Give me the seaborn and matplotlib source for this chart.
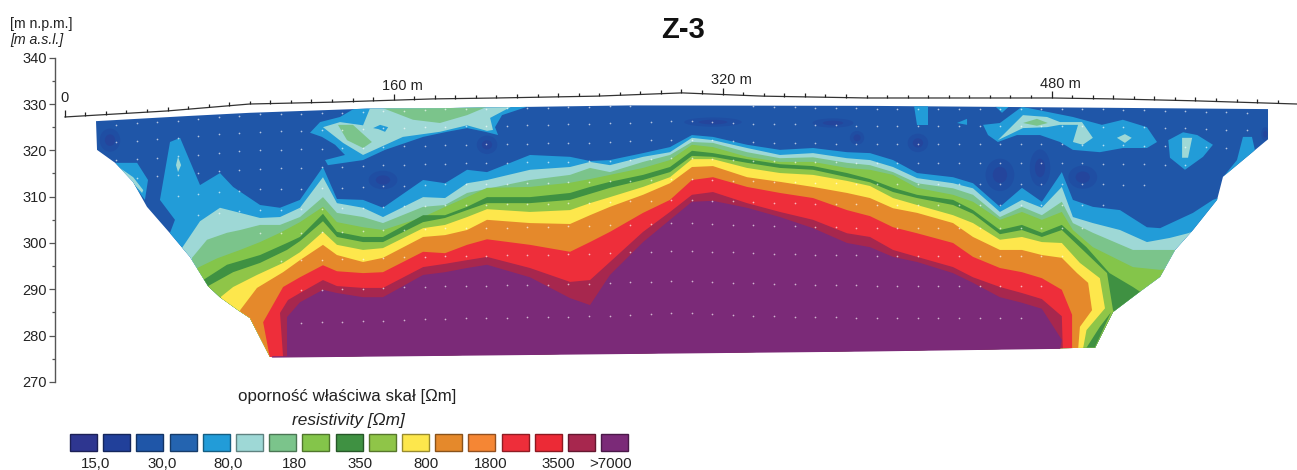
import numpy as np
import pandas as pd
import matplotlib
matplotlib.use("Agg")
import matplotlib.pyplot as plt
import seaborn as sns
from matplotlib.patches import Polygon, Ellipse, Rectangle
from matplotlib.path import Path

# legend classes
CLASS_COLORS = ["#2e3690", "#21409a", "#1f56a8", "#2464b0", "#229cd8", "#9ed8d6",
                "#7bc48b", "#84c54a", "#3f9142", "#8fc548", "#fde74c", "#e5892b",
                "#f58634", "#ee2e3a", "#ec2a36", "#a7274e", "#7b2a78"]
LEGEND_TICKS = ["15,0", "30,0", "80,0", "180", "350", "800", "1800", "3500", ">7000"]

# section outline (distance m, elevation m)
OUTLINE_X = [15.2, 59.5, 90, 147, 182.5, 275, 391.6, 585.3, 585.3, 563.4, 560.5, 548.8, 540.1, 532.8,
             522.1, 509.9, 501.2, 386.8, 99.8, 90.1, 84.3, 75.5, 69.7, 60.9, 51.2, 40, 33.2, 24.5, 15.7]
OUTLINE_Y = [326.3, 327.4, 328.1, 329, 329.1, 329.7, 329.6, 328.9, 322.4, 314.3, 309.3, 302.8, 298.5, 292.7,
             289.2, 285.1, 277.4, 276.7, 275.4, 283.8, 285.5, 288.3, 290.7, 297, 302.1, 307.8, 313.2, 317.3, 320.1]
BOTTOM_X = [101, 386.8, 484]
BOTTOM_Y = [275.4, 276.7, 277.3]

# ground surface line
SURFACE_X = [0, 49.8, 90, 130.5, 179, 210.2, 258.9, 300.2, 339.6, 390.2, 480.2, 510, 548.8, 599.4]
SURFACE_Y = [327.2, 328.5, 330, 330.4, 331.1, 331.3, 331.7, 332.4, 331.7, 331.3, 331.3, 331.1, 330.7, 330]

# isolines: common middle stations, each class has own ends
MID_X = [114.4, 125.6, 132.4, 145.1, 154.8, 174.3, 185, 195.7, 205.4, 226.3, 245.8, 255.5, 265.2, 281.3, 294.4,
         305.1, 315.3, 331.9, 347.9, 364, 380.5, 391.7, 402.9, 414.6, 432.1, 441.8, 454.9, 465.6, 475.3, 485]

C4_LX = [51.2, 53.6, 46.3, 51.2, 56.1, 65.8, 75.5, 81.9, 95, 104.7]
C4_LY = [302.2, 305, 309.3, 321.8, 322.7, 312.5, 315.1, 312.1, 308.2, 307.6]
C4_MID = [309.3, 316.4, 309.5, 309.3, 307.6, 313.6, 312.9, 315.8, 315.3, 319, 318.6, 317.7, 317.9, 319.4, 320.7,
          323.3, 322.9, 321.2, 320.1, 320.5, 319.6, 319.4, 317.9, 315.1, 314.2, 312.9, 307.8, 311.9, 308.9, 315.3]
C4_RX = [490.4, 500.1, 513.3, 526.4, 532.8, 548.8, 558.5, 571.6]
C4_RY = [309.3, 307.8, 307.1, 303.4, 303.2, 306.5, 309.3, 311.4]

C5_LX = [57, 65.8, 75.5, 85.3, 95, 104.7]
C5_LY = [298.9, 304.7, 307.6, 306.5, 305.4, 305.6]
C5_MID = [307.6, 314.2, 308.6, 307.6, 305.6, 309.9, 309.7, 312.9, 313.6, 315.8, 316.4, 317.5, 316.8, 318.6, 319.6,
          322.7, 322.2, 320.5, 319, 319.4, 318.3, 317.9, 316.4, 314, 312.9, 311.8, 306.7, 309.3, 307.6, 312.1]
C5_RX = [490.4, 500.1, 513.3, 526.4, 537.6, 546.4, 557.1]
C5_RY = [305.6, 304.3, 302.8, 300.2, 301.1, 302.1, 303.9]

C6_LX = [61.9, 69.2, 78.9, 85.3, 95, 104.7]
C6_LY = [296.8, 300.7, 302.2, 302.8, 303.9, 303.9]
C6_MID = [305.6, 309.9, 306.5, 305.6, 304.3, 307.8, 308.2, 310.8, 311.7, 313.6, 314.7, 316.2, 315.3, 317.5, 319,
          321.8, 321.6, 319.6, 318.3, 318.5, 317.3, 316.8, 315.3, 312.9, 311.8, 310.4, 305.6, 307.8, 306, 308.9]
C6_RX = [490.4, 500.1, 519.6, 540, 547.3]
C6_RY = [304.3, 302.2, 298.5, 298.5, 299.6]

C7_LX = [64.4, 74.2, 85.3, 95, 104.7]
C7_LY = [294.6, 296.7, 298.5, 300.2, 302.2]
C7_MID = [304.5, 307.8, 304.5, 303.4, 302.8, 305.6, 307.8, 309.9, 311.9, 312.1, 313, 313.8, 314.7, 316.2, 317.9,
          321.2, 320.7, 318.6, 317.5, 317.5, 316.2, 315.8, 314.7, 311.9, 310.4, 308.9, 305, 306.7, 305, 306.7]
C7_RX = [490.4, 500.1, 519.6, 532.8, 540]
C7_RY = [302.8, 299.1, 294.8, 294.2, 294.6]

C8_LX = [67.3, 78.9, 95, 108.1]
C8_LY = [292, 295.3, 297.4, 300]
C8_MID = [301.3, 306.3, 302.4, 301.3, 301.3, 306, 306, 307.8, 309.9, 309.9, 310.8, 312.1, 313.2, 314.7, 316.4,
          319.9, 319.4, 318.1, 317, 316.6, 315.1, 313.8, 311.9, 310.4, 309.3, 307.1, 302.8, 303.9, 302.2, 303.9]
C8_RX = [497, 508.2, 519.6, 525.4]
C8_RY = [299.1, 293.5, 290.5, 288.8]

C9_LX = [69.7, 81.9, 95, 108.1]
C9_LY = [290.7, 293.7, 295.7, 298.5]
C9_MID = [300.4, 304.7, 301.3, 300.2, 300.2, 304.5, 305.4, 307.1, 308.6, 308.6, 309.3, 310.6, 311.9, 313.6, 315.3,
          318.8, 318.6, 317.3, 316.2, 315.8, 314.2, 313.1, 311, 309.7, 308.2, 306.3, 301.9, 302.8, 301.3, 302.8]
C9_RX = [495.2, 507, 509.9, 513.3]
C9_RY = [298.5, 293.5, 285.5, 283.4]

C10_LX = [76, 81.9, 93.5, 106.2]
C10_LY = [288.4, 290.5, 293.1, 295.7]
C10_MID = [298, 302.4, 299.6, 298.5, 298.9, 303.2, 303.9, 305.6, 307.3, 306.7, 307.1, 308.6, 309.9, 312.1, 314.2,
           318.1, 318.1, 316.2, 315.1, 314.7, 313.4, 312.3, 309.7, 308.2, 306, 304.3, 300.7, 301.3, 300.2, 300]
C10_RX = [493.8, 503.5, 506, 497, 495.2]
C10_RY = [295.7, 292.4, 285.9, 281.2, 276.9]

C11_LX = [85.3, 93.5, 106.2]
C11_LY = [285.5, 290.3, 293.7]
C11_MID = [296.3, 299.6, 297.4, 295.9, 296.8, 301.3, 301.7, 302.8, 305, 304.3, 304.1, 306, 307.8, 310.4, 312.9,
           316.4, 316.6, 314.2, 313.2, 312.1, 310.8, 309.7, 307.5, 306.5, 304.3, 301.3, 298.5, 298.5, 297.4, 296.8]
C11_RX = [492.4, 497.8, 499.7, 493.8, 492.9]
C11_RY = [293.5, 291.4, 285.5, 281.9, 276.9]

C13_LX = [99.8, 96.5, 106.2]
C13_LY = [275.2, 282.9, 290.5]
C13_MID = [292.6, 295.2, 293.9, 293.5, 293.7, 298.1, 297.8, 299.6, 300.8, 299.6, 298.1, 300.2, 302.4, 306.5, 309.3,
           313.6, 314.2, 312.1, 310.8, 309.7, 307.1, 305.8, 303.4, 302.1, 300, 297, 294.6, 293.7, 292.4, 289.9]
C13_RX = [490, 490]
C13_RY = [284.5, 276.9]

C15_LX = [106.2, 104.7, 108.6]
C15_LY = [275.4, 284.9, 287.7]
C15_MID = [289.2, 292, 290.7, 290.3, 290.3, 294.8, 295.5, 296.3, 297, 294.6, 291.6, 292, 295.9, 302.4, 306.7,
           310.4, 311, 308.6, 306.7, 305, 302.1, 301.3, 298.5, 297, 294.8, 292.6, 290.5, 289.2, 287.9, 284.2]
C15_RX = [485.5]
C15_RY = [276.9]

C16_LX = [108.1, 108.1]
C16_LY = [275.8, 284]
C16_MID = [287.2, 289.9, 289.2, 288.3, 288.3, 293.1, 293.7, 294.6, 295.3, 292.6, 288.1, 286.6, 293.1, 300.2, 305,
           308.9, 309.1, 307.6, 305.6, 303.2, 300, 299.1, 297, 295.9, 293.5, 291.4, 288.3, 287.1, 285.8, 279.1]
C16_RX = [484]
C16_RY = [276.9]

# near surface anomalies, (class index, x, y)
PATCHES = [
    (4, [141.2, 133.9, 124.2, 119.3, 125.1, 131.5, 136.3, 126.6, 128, 145.1, 155.8, 174.3, 185.9, 195.7, 204.6, 210.8, 209.3, 212.7, 226.3, 226.3, 141.2],
        [329.1, 327.2, 326.1, 323.8, 322.9, 321.2, 319, 317.9, 316.8, 317.9, 320.1, 322.9, 324, 324.8, 324, 323.3, 325, 327.6, 329.6, 331, 331]),
    (5, [148.5, 145.1, 133.9, 125.6, 135.4, 145.1, 164.5, 182.5, 195.7, 205.4, 208.3, 206.9, 218, 218, 148.5],
        [329.1, 325.4, 326.1, 325, 321.6, 319, 322.9, 324, 325.4, 324.2, 324.4, 327, 329.6, 331, 331]),
    (6, [154.8, 169.4, 182.5, 195.7, 205.4, 205.4, 154.8], [329.1, 326.6, 325.9, 327.6, 329.4, 331, 331]),
    (6, [132.9, 140.2, 149.4, 145.1, 137.3], [325.5, 325.5, 321.8, 320.5, 322.2]),
    (4, [150, 153.4, 157.3, 155.8, 152.4], [324.8, 325.5, 325, 324, 324.6]),
    (4, [24.5, 35.2, 40.5, 39, 31.8], [317.3, 317.3, 313.6, 309.3, 313.6]),
    (5, [25.5, 33.3, 38.2, 37.6, 32.7], [316.6, 314.2, 311.4, 310.8, 313.2]),
    (5, [55.1, 56.6, 55.1, 54.1], [318.6, 316.8, 315.3, 316.8]),
    (4, [446.7, 454.9, 465.6, 490.4, 504.5, 514.7, 526.4, 531.3, 526.4, 514.7, 503.5, 490.4, 484.1, 474.4, 463.2, 453.9, 449.1],
        [325.5, 325.9, 329.4, 327.2, 325.5, 326.6, 325, 321.8, 320.5, 320.5, 319.6, 320.1, 321.8, 323.3, 323.3, 321.8, 323.3]),
    (5, [453.9, 466.1, 477.8, 484.1, 494.8, 500.1, 495.2, 490.4, 492.9, 484.1, 477.8, 466.1],
        [322.2, 327.6, 327.2, 326.1, 326.1, 322.7, 321.2, 321.8, 325.5, 325.5, 325, 324.8]),
    (6, [466.1, 472.9, 478.2, 472.9], [325.9, 326.8, 325.9, 325.3]),
    (5, [511.8, 515.7, 519, 515.7], [322.7, 323.5, 322.7, 321.6]),
    (4, [536.8, 544, 550.9, 558.5, 553.7, 544.9, 537.6], [322.2, 323.9, 323.3, 321.2, 318.6, 315.8, 318.4]),
    (5, [543.5, 548.4, 546.4, 543.5], [322.7, 322.7, 318.4, 318.4]),
    (4, [563.4, 570.2, 573.1, 577.5, 578.9, 575, 569.2], [314.2, 317.9, 322.9, 322.9, 320.1, 316.8, 314.7]),
    (4, [412.6, 419.9, 419.9, 414.6], [331, 331, 325.5, 325.5]),
    (4, [434, 438.9, 438.9], [325.9, 326.8, 325.5]),
    (4, [449.1, 463.2, 455.9], [331, 331, 328.1]),
    (8, [497, 503.5, 509, 501], [277.4, 281.9, 285.1, 277.4]),
]

# low resistivity spots
SPOT_X = [22, 454.9, 474.4, 495.2, 415, 205.4, 315.3, 373.7, 385.4, 154.8, 584]
SPOT_Y = [322.2, 314.7, 316.2, 314.2, 321.6, 321.2, 326.1, 325.9, 322.7, 313.6, 323.5]
SPOT_W = [10, 14, 10, 14, 10, 10, 28, 20, 7, 14, 4]
SPOT_H = [5, 7, 8, 5, 4, 4, 2, 2, 3, 4, 3]

# measurement points: depth below surface and extent of each row
ROW_DEPTH = [2.3, 6, 10, 14, 18.5, 23, 28, 34, 40.5, 47.5]
ROW_START = [20, 15, 25, 35, 50, 60, 95, 105, 110, 115]
ROW_END = [580, 580, 570, 550, 530, 510, 500, 490, 480, 470]

W, H = 1297, 470

sns.set_theme(style="white")
plt.rcParams["font.family"] = ["Liberation Sans", "DejaVu Sans"]
palette = sns.color_palette(CLASS_COLORS)

fig = plt.figure(figsize=(W / 100, H / 100), dpi=100)
ax = fig.add_axes([0, 0, 1, 1])
ax.set_xlim(-31.5, 599.4)
ax.set_ylim(251.0, 352.45)

section = Polygon(np.column_stack([OUTLINE_X, OUTLINE_Y]), closed=True, transform=ax.transData,
                  facecolor=palette[2], edgecolor="none", zorder=1)
ax.add_patch(section)


def fill_clipped(xs, ys, color, zorder):
    poly = ax.fill(xs, ys, color=color, linewidth=0, zorder=zorder)[0]
    poly.set_clip_path(section)


# darker spots sit under everything else
for x, y, w, h in zip(SPOT_X, SPOT_Y, SPOT_W, SPOT_H):
    outer = Ellipse((x, y), w, h, facecolor=palette[1], edgecolor="none", alpha=0.35, zorder=2)
    ax.add_patch(outer)
    outer.set_clip_path(section)
    inner = Ellipse((x, y), w * 0.5, h * 0.5, facecolor=palette[0], edgecolor="none", alpha=0.35, zorder=2)
    ax.add_patch(inner)
    inner.set_clip_path(section)

layers = [
    (4, C4_LX, C4_LY, C4_MID, C4_RX, C4_RY),
    (5, C5_LX, C5_LY, C5_MID, C5_RX, C5_RY),
    (6, C6_LX, C6_LY, C6_MID, C6_RX, C6_RY),
    (7, C7_LX, C7_LY, C7_MID, C7_RX, C7_RY),
    (8, C8_LX, C8_LY, C8_MID, C8_RX, C8_RY),
    (9, C9_LX, C9_LY, C9_MID, C9_RX, C9_RY),
    (10, C10_LX, C10_LY, C10_MID, C10_RX, C10_RY),
    (11, C11_LX, C11_LY, C11_MID, C11_RX, C11_RY),
    (13, C13_LX, C13_LY, C13_MID, C13_RX, C13_RY),
    (15, C15_LX, C15_LY, C15_MID, C15_RX, C15_RY),
    (16, C16_LX, C16_LY, C16_MID, C16_RX, C16_RY),
]
for i, (idx, lx, ly, mid, rx, ry) in enumerate(layers):
    xs = list(lx) + MID_X + list(rx)
    ys = list(ly) + mid + list(ry)
    # close the polygon below the section
    xs = xs + [xs[-1], xs[0]]
    ys = ys + [260, 260]
    fill_clipped(xs, ys, palette[idx], 3 + i)

# anomalies go over the blue part
for idx, xs, ys in PATCHES:
    fill_clipped(xs, ys, palette[idx], 20)

# clean the clipped bottom edge
ax.plot(BOTTOM_X, BOTTOM_Y, color=palette[16], linewidth=1.0, zorder=21)

# surface line and distance ticks
surface = pd.DataFrame({"x": SURFACE_X, "y": SURFACE_Y})
sns.lineplot(data=surface, x="x", y="y", ax=ax, color="#333333", linewidth=0.9, zorder=30)
tick_x = np.arange(0, 600, 10)
tick_y = np.interp(tick_x, SURFACE_X, SURFACE_Y)
tick_len = np.where(tick_x % 160 == 0, 1.4, 0.75)
ax.vlines(tick_x, tick_y, tick_y + tick_len, color="#222222", linewidth=0.9, zorder=30)
ax.text(0, 329.7, "0", ha="center", va="bottom", fontsize=10.5, color="#222222")
for m, lab in [(160, "160 m"), (320, "320 m"), (480, "480 m")]:
    ax.text(m + 4.3, np.interp(m, SURFACE_X, SURFACE_Y) + 1.6, lab, ha="center", va="bottom",
            fontsize=10.5, color="#222222")

# measurement points
rows = []
for depth, start, end in zip(ROW_DEPTH, ROW_START, ROW_END):
    xs = np.arange(start + 5 - start % 10, end, 10.0)
    rows.append(pd.DataFrame({"x": xs, "y": np.interp(xs, SURFACE_X, SURFACE_Y) - depth}))
dots = pd.concat(rows)
inside = Path(np.column_stack([OUTLINE_X, OUTLINE_Y])).contains_points(dots[["x", "y"]].to_numpy())
sns.scatterplot(data=dots[inside], x="x", y="y", ax=ax, color="white", s=1.5, linewidth=0, alpha=0.65, zorder=25)

# elevation axis
ax.set_xlabel("")
ax.set_ylabel("")
ax.set_xticks([])
ax.set_yticks(np.arange(270, 341, 10))
ax.set_yticks(np.arange(275, 340, 10), minor=True)
ax.tick_params(axis="y", which="major", left=True, length=4.6, width=0.9, color="#555555",
               labelsize=10.5, labelcolor="#222222", pad=1.5)
ax.tick_params(axis="y", which="minor", left=True, length=2.4, width=0.9, color="#555555")
for s in ["top", "right", "bottom"]:
    ax.spines[s].set_visible(False)
ax.spines["left"].set_position(("data", -4.7))
ax.spines["left"].set_bounds(270, 340)
ax.spines["left"].set_color("#555555")
ax.spines["left"].set_linewidth(1.0)


def fig_text(px, py, s, **kw):
    fig.text(px / W, 1 - py / H, s, **kw)


fig_text(683, 30, "Z-3", ha="center", va="center", fontsize=21, fontweight="bold", color="#111111")
fig_text(10, 24, "[m n.p.m.]", ha="left", va="center", fontsize=10.2, color="#222222")
fig_text(10, 40, "[m a.s.l.]", ha="left", va="center", fontsize=10.2, style="italic", color="#222222")
fig_text(347, 397, "oporność właściwa skał [Ωm]", ha="center", va="center", fontsize=12.2, color="#222222")
fig_text(348, 420, "resistivity [Ωm]", ha="center", va="center", fontsize=12.4, style="italic", color="#222222")

# legend boxes
for i, col in enumerate(palette):
    edge = tuple(c * 0.6 for c in col)
    fig.add_artist(Rectangle(((70 + i * 33.2) / W, 1 - 451 / H), 27 / W, 17 / H, transform=fig.transFigure,
                             facecolor=col, edgecolor=edge, linewidth=1.0))
for lab, px in zip(LEGEND_TICKS, [96, 162, 228, 294, 360, 426, 491, 558, 611]):
    fig_text(px, 464, lab, ha="center", va="center", fontsize=10.8, color="#222222")

fig.savefig("out.png", dpi=100)
